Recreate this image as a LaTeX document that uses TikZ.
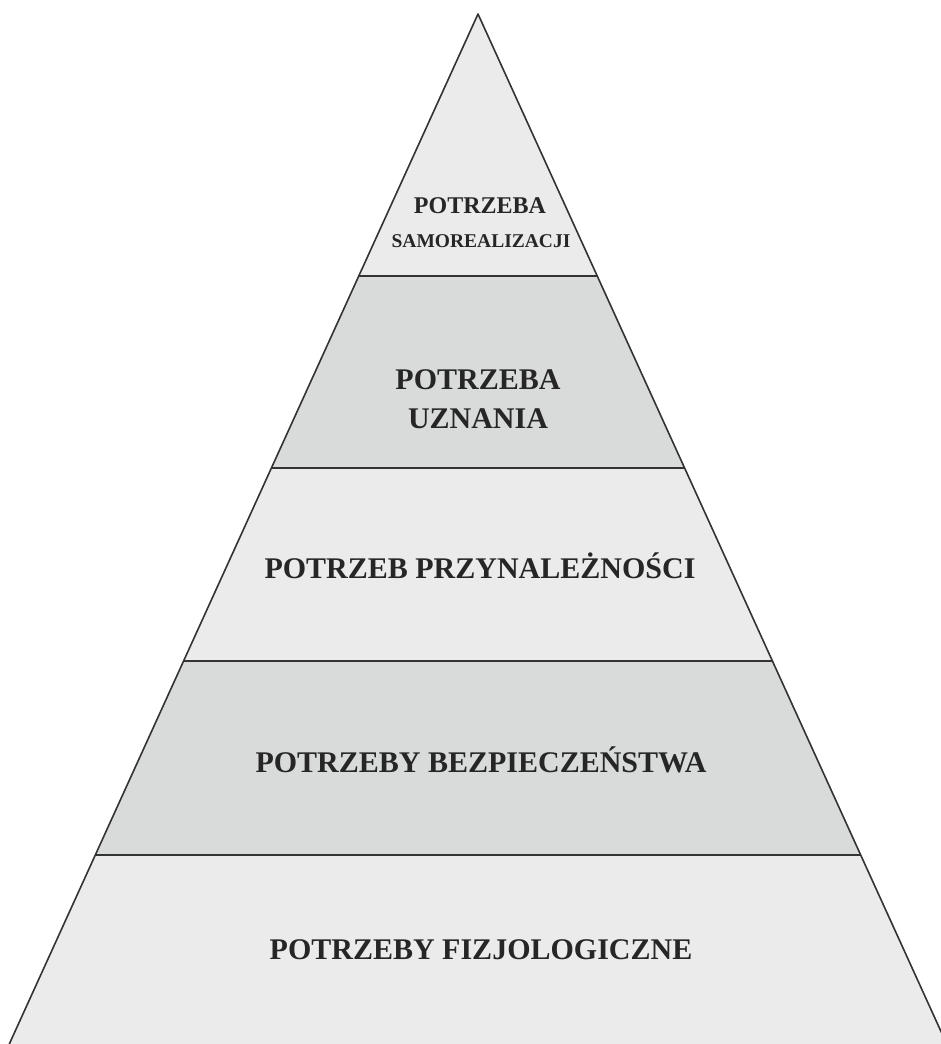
\documentclass[tikz,border=0pt]{standalone}
\usepackage{fontspec}
\setmainfont{Liberation Serif}
\definecolor{lightfill}{HTML}{EAEBEA}
\definecolor{darkfill}{HTML}{D9DADA}
\definecolor{edge}{HTML}{333333}
\definecolor{txt}{HTML}{262626}
\begin{document}
\begin{tikzpicture}[x=1pt,y=-1pt,
  lvl/.style={draw=edge,line width=1.6pt,line join=round},
  lab/.style={anchor=base,text=txt,font=\bfseries,inner sep=0pt}]
\useasboundingbox (0,0) rectangle (940,1044);
% layers
\fill[lightfill] (478,14) -- (597.2,276) -- (358.8,276) -- cycle;
\fill[darkfill] (358.8,276) -- (597.2,276) -- (684.6,468) -- (271.4,468) -- cycle;
\fill[lightfill] (271.4,468) -- (684.6,468) -- (772.4,661) -- (183.6,661) -- cycle;
\fill[darkfill] (183.6,661) -- (772.4,661) -- (860.7,855) -- (95.3,855) -- cycle;
\fill[lightfill] (95.3,855) -- (860.7,855) -- (946.7,1044) -- (9.3,1044) -- cycle;
% dividing lines
\draw[lvl] (358.8,276) -- (597.2,276);
\draw[lvl] (271.4,468) -- (684.6,468);
\draw[lvl] (183.6,661) -- (772.4,661);
\draw[lvl] (95.3,855) -- (860.7,855);
% outline
\draw[lvl] (9.3,1044) -- (478,14) -- (946.7,1044);
% labels
\node[lab,font=\bfseries\fontsize{24}{27}\selectfont] (t1) at (480,213) {POTRZEBA};
\node[lab,font=\bfseries\fontsize{19.5}{22}\selectfont] (t2) at (481,247) {SAMOREALIZACJI};
\node[lab,font=\bfseries\fontsize{30}{34}\selectfont] (u1) at (478,389) {POTRZEBA};
\node[lab,font=\bfseries\fontsize{30}{34}\selectfont] (u2) at (478,428) {UZNANIA};
\node[lab,font=\bfseries\fontsize{30}{34}\selectfont] (p) at (480,578) {POTRZEB PRZYNALEŻNOŚCI};
\node[lab,font=\bfseries\fontsize{30}{34}\selectfont] (b) at (481,772) {POTRZEBY BEZPIECZEŃSTWA};
\node[lab,font=\bfseries\fontsize{30}{34}\selectfont] (f) at (481,959) {POTRZEBY FIZJOLOGICZNE};
\end{tikzpicture}
\end{document}
